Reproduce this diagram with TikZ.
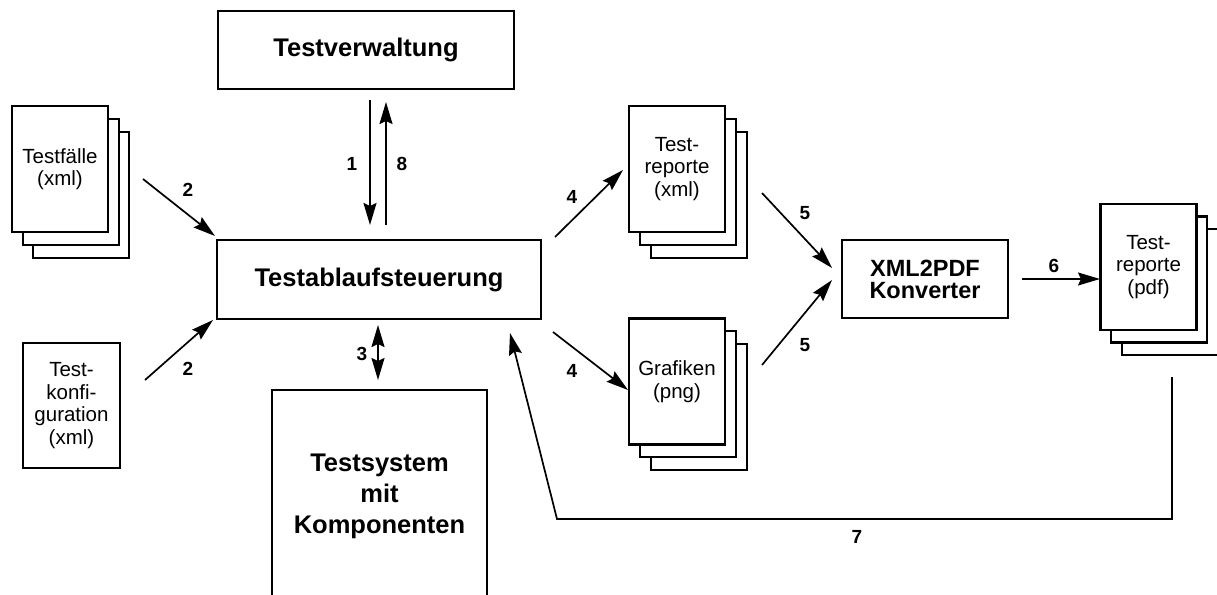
\documentclass[tikz,border=0pt]{standalone}
\usepackage{fontspec}
\setmainfont{Liberation Sans}
\usetikzlibrary{arrows.meta}
\begin{document}
\begin{tikzpicture}[x=1pt,y=-1pt,
  box/.style={draw,line width=2pt,fill=white,inner sep=0pt,
    font=\fontsize{25.5}{31}\selectfont\bfseries,align=center},
  page/.style={draw,line width=2.2pt,fill=white,inner sep=0pt,
    minimum width=96pt,minimum height=126pt,
    font=\fontsize{20.5}{22.5}\selectfont,align=center},
  lbl/.style={font=\fontsize{19}{19}\selectfont\bfseries,inner sep=0pt},
  tip/.style={Stealth[length=22pt,width=13pt,inset=3pt]},
  arr/.style={line width=1.7pt,-{Stealth[length=22pt,width=13pt,inset=3pt]}},
  darr/.style={line width=1.7pt,{Stealth[length=22pt,width=13pt,inset=3pt]}-{Stealth[length=22pt,width=13pt,inset=3pt]}}]
\useasboundingbox (0,0) rectangle (1217,594);
\fill[white] (0,0) rectangle (1217,594);

% main boxes
\node[box,minimum width=296pt,minimum height=78pt] (tv) at (366,50) {Testverwaltung};
\node[box,minimum width=324pt,minimum height=79pt] (ta) at (379,279.5) {Testablaufsteuerung};
\node[box,minimum width=215pt,minimum height=212pt] (ts) at (379.5,496) {Testsystem\\mit\\Komponenten};
\node[box,minimum width=166pt,minimum height=78pt,font=\fontsize{23.5}{22}\selectfont\bfseries] (xp) at (925,279) {XML2PDF\\Konverter};

% Testfaelle stack
\node[page] (tf3) at (81,195) {};
\node[page] (tf2) at (71,182) {};
\node[page] (tf) at (60,169) {Testfälle\\(xml)};

% Testkonfiguration
\node[page,minimum width=97pt,minimum height=125pt] (tk) at (71.5,405.5) {Test-\\konfi-\\guration\\(xml)};

% Testreporte xml stack
\node[page] (rx3) at (699,195) {};
\node[page] (rx2) at (688,182) {};
\node[page] (rx) at (677,169) {Test-\\reporte\\(xml)};

% Grafiken stack
\node[page] (gr3) at (699,407) {};
\node[page] (gr2) at (688,394) {};
\node[page] (gr) at (677,381.5) {Grafiken\\(png)};

% Testreporte pdf stack
\node[page] (rp3) at (1170,292) {};
\node[page] (rp2) at (1159,279.5) {};
\node[page] (rp) at (1148.5,267) {Test-\\reporte\\(pdf)};

% connector endpoints
\coordinate (a1s) at (370,100);  \coordinate (a1e) at (370,225);
\coordinate (a8s) at (386,225);  \coordinate (a8e) at (386,102);
\coordinate (a3s) at (378,380);  \coordinate (a3e) at (378,325);
\coordinate (a2as) at (143,179); \coordinate (a2ae) at (215,236);
\coordinate (a2bs) at (145,380); \coordinate (a2be) at (213,320);
\coordinate (a4as) at (555,237); \coordinate (a4ae) at (623,170);
\coordinate (a4bs) at (553,332); \coordinate (a4be) at (628,390);
\coordinate (a5as) at (762,193); \coordinate (a5ae) at (832,268);
\coordinate (a5bs) at (762,365); \coordinate (a5be) at (832,280);
\coordinate (a6s) at (1022,279); \coordinate (a6e) at (1100,279);
\coordinate (a7s) at (1172,377); \coordinate (a7c) at (557,519); \coordinate (a7e) at (510,333);

\draw[arr] (a1s) -- (a1e);
\draw[arr] (a8s) -- (a8e);
\draw[darr] (a3s) -- (a3e);
\draw[arr] (a2as) -- (a2ae);
\draw[arr] (a2bs) -- (a2be);
\draw[arr] (a4as) -- (a4ae);
\draw[arr] (a4bs) -- (a4be);
\draw[arr] (a5as) -- (a5ae);
\draw[arr] (a5bs) -- (a5be);
\draw[arr] (a6s) -- (a6e);
\draw[arr,line join=miter] (a7s) |- (a7c) -- (a7e);

% labels
\node[lbl] (l1) at (352,164) {1};
\node[lbl] (l8) at (402,164) {8};
\node[lbl] (l3) at (362,354) {3};
\node[lbl] (l2a) at (188,190) {2};
\node[lbl] (l2b) at (188,369) {2};
\node[lbl] (l4a) at (572,197) {4};
\node[lbl] (l4b) at (572,371) {4};
\node[lbl] (l5a) at (805,213) {5};
\node[lbl] (l5b) at (805,345) {5};
\node[lbl] (l6) at (1054,266) {6};
\node[lbl] (l7) at (857,537) {7};
\end{tikzpicture}
\end{document}
